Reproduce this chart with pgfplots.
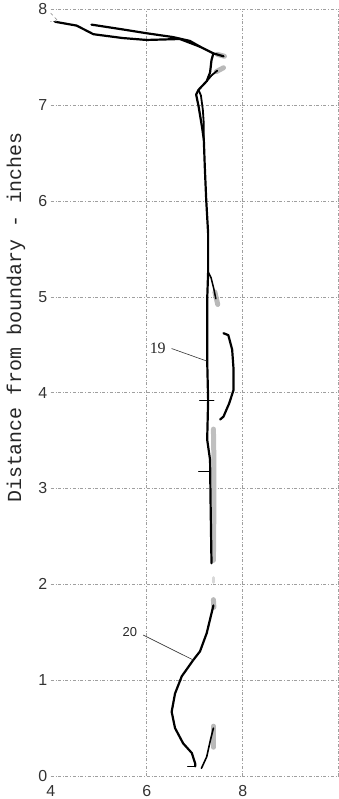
\documentclass[border=0pt]{standalone}
\usepackage{fontspec}
\setmainfont{Liberation Serif}
\newfontfamily\ticksans{Liberation Sans}
\newfontfamily\labmono{Liberation Mono}
\usepackage{pgfplots}
\pgfplotsset{compat=1.18}
\begin{document}
\begin{tikzpicture}
\useasboundingbox (-50.7bp,-23bp) rectangle (288.3bp,776bp);
\begin{axis}[
 at={(0,0)}, anchor=south west,
 scale only axis, width=288bp, height=766.7bp,
 xmin=4, xmax=10, ymin=0, ymax=8,
 axis line style={draw=none},
 major tick length=0pt,
 xtick={6,8,10}, xticklabels={6,8,{}},
 extra x ticks={4}, extra x tick style={grid=none},
 ytick={0,1,2,3,4,5,6,7,8},
 grid=major,
 grid style={gray!75, dash dot, line width=0.5bp},
 tick label style={font=\fontsize{16}{18}\selectfont\ticksans, text=black!80},
 xticklabel style={yshift=-6bp},
 /pgf/number format/assume math mode=true,
 ylabel={Distance from boundary - inches},
 ylabel style={at={(axis description cs:-0.1205,0.598)}, anchor=center, font=\fontsize{20}{22}\selectfont\labmono, text=black!85},
 clip=false,
 every axis plot/.append style={line join=round, line cap=round},
]
% blurred thick marks
\addplot[gray!55, line width=5bp, forget plot] coordinates {(7.47,7.53) (7.62,7.51)};
\addplot[gray!55, line width=5bp, forget plot] coordinates {(7.45,7.35) (7.60,7.39)};
\addplot[gray!55, line width=5bp, forget plot] coordinates {(7.42,5.05) (7.48,4.92)};
\addplot[gray!50, line width=5bp, forget plot] coordinates {(7.39,3.62) (7.40,3.30) (7.40,2.80) (7.39,2.25)};
\addplot[gray!30, line width=3bp, forget plot] coordinates {(7.39,2.07) (7.39,2.02)};
\addplot[gray!55, line width=5bp, forget plot] coordinates {(7.39,1.84) (7.40,1.76)};
\addplot[gray!55, line width=5bp, forget plot] coordinates {(7.39,0.52) (7.39,0.30)};
% curve 19, upper loop
\addplot[black, line width=2.2bp] coordinates {
 (4.09,7.87) (4.54,7.83) (4.89,7.74) (5.5,7.70) (6.0,7.68) (6.69,7.69) (7.11,7.61) (7.39,7.54) (7.6,7.51)};
\addplot[black, line width=2.2bp] coordinates {
 (4.85,7.84) (5.5,7.79) (6.0,7.75) (6.55,7.71) (6.9,7.67) (7.11,7.61)};
% curve 19, descending
\addplot[black, line width=2.2bp] coordinates {
 (7.39,7.54) (7.35,7.47) (7.32,7.34) (7.25,7.25) (7.08,7.16) (7.03,7.11) (7.08,6.99) (7.15,6.78) (7.19,6.64)
 (7.21,6.36) (7.24,6.01) (7.28,5.66) (7.28,5.26) (7.26,4.97) (7.26,4.34) (7.28,3.92) (7.26,3.51)
 (7.32,3.30) (7.33,2.88) (7.35,2.22)};
\addplot[black, line width=1.8bp] coordinates {
 (7.08,7.16) (7.13,7.10) (7.17,6.95) (7.19,6.80) (7.19,6.64)};
\addplot[black, line width=1.8bp] coordinates {
 (7.25,7.25) (7.35,7.31) (7.47,7.36)};
\addplot[black, line width=1.5bp] coordinates {
 (7.28,5.26) (7.34,5.20) (7.40,5.08) (7.44,4.98)};
% curve 19, right segment
\addplot[black, line width=2.2bp] coordinates {
 (7.6,4.62) (7.70,4.60) (7.78,4.45) (7.81,4.24) (7.81,4.03) (7.72,3.89) (7.60,3.75) (7.53,3.72)};
% small cross marks
\addplot[black, line width=0.8bp] coordinates {(7.10,3.92) (7.40,3.92)};
\addplot[black, line width=0.8bp] coordinates {(7.08,3.18) (7.32,3.18)};
\addplot[black, line width=0.8bp] coordinates {(6.85,0.10) (7.01,0.10)};
% curve 20
\addplot[black, line width=2.2bp] coordinates {
 (7.39,1.78) (7.25,1.49) (7.11,1.30) (6.97,1.21) (6.73,1.04) (6.59,0.86) (6.52,0.67) (6.59,0.50)
 (6.76,0.34) (6.94,0.24) (7.01,0.13) (7.01,0.10)};
\addplot[black, line width=1.6bp] coordinates {
 (7.14,0.08) (7.25,0.20) (7.33,0.38) (7.39,0.50)};
% top-left dashed marks
\addplot[gray, line width=0.5bp, dashed] coordinates {(4.0,7.96) (4.15,7.88)};
\addplot[gray, line width=0.5bp, dotted] coordinates {(4.0,7.88) (4.15,7.88)};
% pointer lines
\addplot[black!80, line width=0.6bp] coordinates {(6.52,4.46) (7.25,4.33)};
\addplot[black!80, line width=0.6bp] coordinates {(5.93,1.47) (6.97,1.21)};
\node[font=\fontsize{16}{18}\selectfont, text=black!85] at (axis cs:6.23,4.46) {19};
\node[font=\fontsize{13}{15}\selectfont\ticksans, text=black!85] at (axis cs:5.65,1.50) {20};
\end{axis}
\end{tikzpicture}
\end{document}
